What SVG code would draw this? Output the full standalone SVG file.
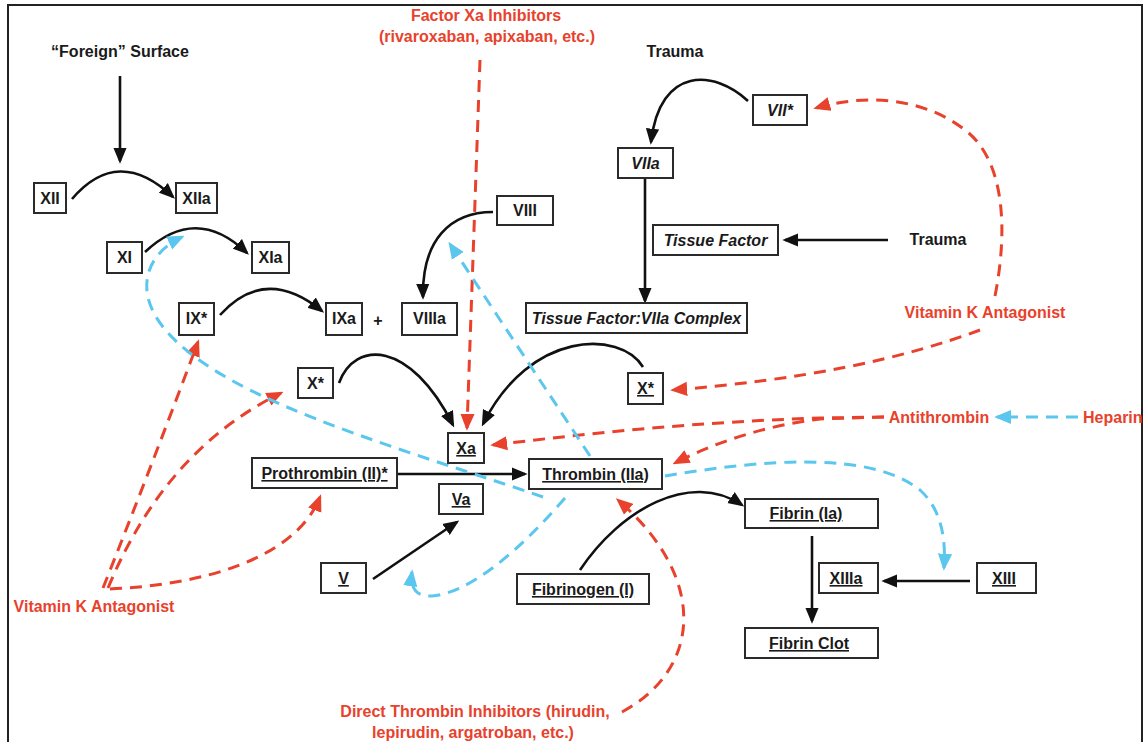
<svg xmlns="http://www.w3.org/2000/svg" width="1148" height="742" viewBox="0 0 1148 742">
<defs>
<style>
.bx{fill:#fff;stroke:#2a2a2a;stroke-width:2}
.t{font-family:"Liberation Sans",Arial,sans-serif;font-weight:bold;font-size:16px;fill:#1a1a1a;text-anchor:middle}
.i{font-style:italic}
.u{text-decoration:underline}
.r{font-family:"Liberation Sans",Arial,sans-serif;font-weight:bold;font-size:16px;fill:#e8412c;text-anchor:middle}
.st{text-anchor:start}
.k{fill:none;stroke:#111;stroke-width:2.6;marker-end:url(#ak)}
.rd{fill:none;stroke:#e8412c;stroke-width:3;stroke-dasharray:12 8;marker-end:url(#ar)}
.bl{fill:none;stroke:#5bc6ee;stroke-width:3;stroke-dasharray:12 8;marker-end:url(#ab)}
</style>
<marker id="ak" viewBox="0 0 12 10" refX="10" refY="5" markerWidth="16" markerHeight="14" markerUnits="userSpaceOnUse" orient="auto"><path d="M0,0 L12,5 L0,10 z" fill="#111"/></marker>
<marker id="ar" viewBox="0 0 12 10" refX="10" refY="5" markerWidth="17" markerHeight="15" markerUnits="userSpaceOnUse" orient="auto"><path d="M0,0 L12,5 L0,10 z" fill="#e8412c"/></marker>
<marker id="ab" viewBox="0 0 12 10" refX="10" refY="5" markerWidth="17" markerHeight="15" markerUnits="userSpaceOnUse" orient="auto"><path d="M0,0 L12,5 L0,10 z" fill="#5bc6ee"/></marker>
</defs>
<rect x="0" y="0" width="1148" height="742" fill="#fff"/>
<rect x="8" y="5" width="1134" height="745" fill="none" stroke="#222" stroke-width="2"/>

<g id="labels">
<text class="t" x="120" y="57">“Foreign” Surface</text>
<text class="t" x="675" y="57">Trauma</text>
<text class="t" x="938" y="245">Trauma</text>
<text class="t" x="378" y="326" font-size="14">+</text>
<text class="r" x="486" y="21">Factor Xa Inhibitors</text>
<text class="r" x="487" y="42">(rivaroxaban, apixaban, etc.)</text>
<text class="r" x="985" y="318">Vitamin K Antagonist</text>
<text class="r" x="939" y="423">Antithrombin</text>
<text class="r st" x="1083" y="423">Heparin</text>
<text class="r" x="94" y="612">Vitamin K Antagonist</text>
<text class="r" x="475" y="717">Direct Thrombin Inhibitors (hirudin,</text>
<text class="r" x="473" y="738">lepirudin, argatroban, etc.)</text>
</g>

<g id="connectors">
<path class="k" d="M120 76 L120 161"/>
<path class="k" d="M72 199 Q118 145 173 197"/>
<path class="k" d="M145 252 Q196 204 247 253"/>
<path class="k" d="M220 315 Q265 265 322 311"/>
<path class="k" d="M493 212 C450 212 422 240 423 297"/>
<path class="k" d="M748 101 C715 70 660 65 651 142"/>
<path class="k" d="M645 178 L645 301"/>
<path class="k" d="M888 240 L785 240"/>
<path class="k" d="M339 383 C355 340 410 340 453 425"/>
<path class="k" d="M643 367 C620 330 530 330 483 424"/>
<path class="k" d="M398 474 L525 474"/>
<path class="k" d="M373 579 L457 522"/>
<path class="k" d="M580 570 C620 510 690 470 742 505"/>
<path class="k" d="M812 536 L812 621"/>
<path class="k" d="M970 581 L884 581"/>

<path class="rd" d="M480 60 L467 428"/>
<path class="rd" d="M995 296 C1008 230 1005 160 965 130 C920 95 860 95 816 108"/>
<path class="rd" d="M980 330 C900 360 800 380 673 390"/>
<path class="rd" d="M884 417 L820 418 C700 422 600 432 493 445"/>
<path class="rd" d="M884 417 L820 419 C770 425 720 440 675 463"/>
<path class="rd" d="M103 588 Q150 470 198 342"/>
<path class="rd" d="M108 588 Q165 450 281 393"/>
<path class="rd" d="M110 589 C200 585 295 560 320 497"/>
<path class="rd" d="M622 712 C700 670 710 580 618 500"/>

<path class="bl" d="M543 497 C450 465 330 430 250 390 C170 350 140 310 148 275 C152 258 165 245 182 237"/>
<path class="bl" d="M590 456 L450 244"/>
<path class="bl" d="M565 498 C520 550 470 593 432 596 C416 597 410 588 412 572"/>
<path class="bl" d="M665 476 C760 460 870 450 920 490 C942 510 946 540 944 568"/>
<path class="bl" d="M1078 417 L997 417"/>
</g>

<g id="n-xii"><rect class="bx" x="34" y="183" width="32" height="30"/><text class="t" x="50" y="204">XII</text></g>
<g id="n-xiia"><rect class="bx" x="176" y="183" width="41" height="30"/><text class="t" x="196.5" y="204">XIIa</text></g>
<g id="n-xi"><rect class="bx" x="107" y="242" width="35" height="31"/><text class="t" x="124.5" y="263">XI</text></g>
<g id="n-xia"><rect class="bx" x="252" y="242" width="37" height="31"/><text class="t" x="270.5" y="263">XIa</text></g>
<g id="n-ix"><rect class="bx" x="179" y="303" width="35" height="32"/><text class="t" x="196.5" y="324">IX*</text></g>
<g id="n-ixa"><rect class="bx" x="326" y="303" width="36" height="32"/><text class="t" x="344" y="324">IXa</text></g>
<g id="n-viiia"><rect class="bx" x="402" y="303" width="55" height="32"/><text class="t" x="429.5" y="324">VIIIa</text></g>
<g id="n-viii"><rect class="bx" x="497" y="196" width="56" height="29"/><text class="t" x="525" y="216">VIII</text></g>
<g id="n-viia"><rect class="bx" x="618" y="148" width="55" height="30"/><text class="t i" x="645.5" y="169">VIIa</text></g>
<g id="n-vii"><rect class="bx" x="753" y="95" width="54" height="30"/><text class="t i" x="780" y="116">VII*</text></g>
<g id="n-tf"><rect class="bx" x="653" y="225" width="125" height="30"/><text class="t i" x="715.5" y="246">Tissue Factor</text></g>
<g id="n-tfc"><rect class="bx" x="526" y="303" width="221" height="30"/><text class="t i" x="636.5" y="324">Tissue Factor:VIIa Complex</text></g>
<g id="n-x1"><rect class="bx" x="298" y="368" width="35" height="30"/><text class="t" x="315.5" y="389">X*</text></g>
<g id="n-x2"><rect class="bx" x="628" y="373" width="35" height="31"/><text class="t u" x="645.5" y="394">X*</text></g>
<g id="n-xa"><rect class="bx" x="448" y="433" width="36" height="30"/><text class="t u" x="466" y="454">Xa</text></g>
<g id="n-pro"><rect class="bx" x="252" y="458" width="145" height="30"/><text class="t u" x="324.5" y="479">Prothrombin (II)*</text></g>
<g id="n-thr"><rect class="bx" x="529" y="459" width="133" height="30"/><text class="t u" x="595.5" y="480">Thrombin (IIa)</text></g>
<g id="n-va"><rect class="bx" x="439" y="484" width="44" height="30"/><text class="t u" x="461" y="505">Va</text></g>
<g id="n-v"><rect class="bx" x="321" y="563" width="45" height="30"/><text class="t u" x="343.5" y="584">V</text></g>
<g id="n-fbg"><rect class="bx" x="517" y="574" width="132" height="30"/><text class="t u" x="583" y="595">Fibrinogen (I)</text></g>
<g id="n-fib"><rect class="bx" x="745" y="499" width="133" height="29"/><text class="t u" x="806" y="519">Fibrin (Ia)</text></g>
<g id="n-xiiia"><rect class="bx" x="819" y="563" width="59" height="30"/><text class="t u" x="846" y="584">XIIIa</text></g>
<g id="n-xiii"><rect class="bx" x="977" y="563" width="59" height="30"/><text class="t u" x="1004" y="584">XIII</text></g>
<g id="n-clot"><rect class="bx" x="745" y="628" width="133" height="30"/><text class="t u" x="809" y="649">Fibrin Clot</text></g>
</svg>
